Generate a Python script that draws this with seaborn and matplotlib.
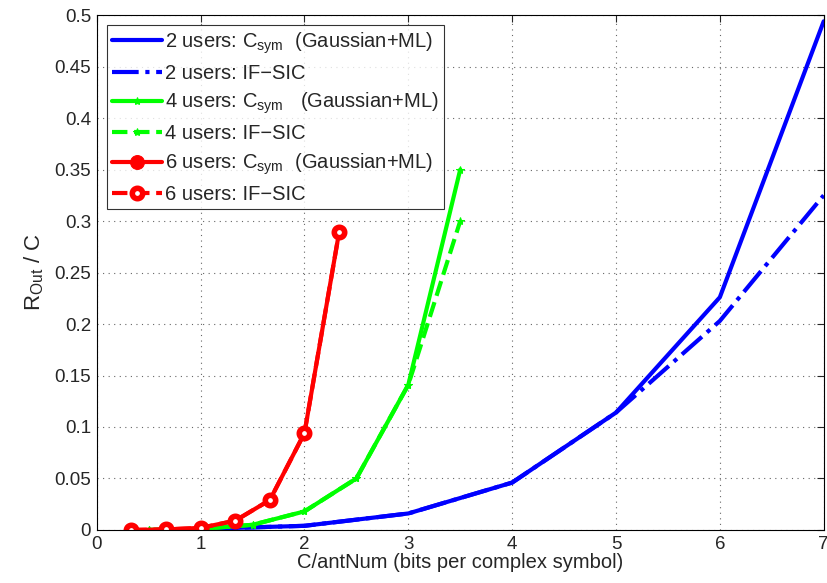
import numpy as np
import pandas as pd
import matplotlib
matplotlib.use("Agg")
import matplotlib.pyplot as plt
import seaborn as sns

# 2 users
x2 = [1, 2, 3, 4, 5, 6, 7]
y2_ml = [0.001, 0.004, 0.016, 0.046, 0.114, 0.226, 0.494]
y2_sic = [0.001, 0.004, 0.016, 0.046, 0.114, 0.203, 0.325]

# 4 users
x4 = [0.5, 1.0, 1.5, 2.0, 2.5, 3.0, 3.5]
y4_ml = [0.0, 0.001, 0.005, 0.018, 0.050, 0.141, 0.350]
y4_sic = [0.0, 0.001, 0.005, 0.018, 0.050, 0.141, 0.300]

# 6 users
x6 = [1/3, 2/3, 1.0, 4/3, 5/3, 2.0, 7/3]
y6_ml = [0.0, 0.0005, 0.002, 0.009, 0.029, 0.094, 0.289]
y6_sic = [0.0, 0.0005, 0.002, 0.009, 0.029, 0.094, 0.289]

sns.set_style("white")
plt.rcParams['font.family'] = ['Liberation Sans', 'DejaVu Sans']
plt.rcParams['mathtext.fontset'] = 'custom'
plt.rcParams['mathtext.rm'] = 'Liberation Sans'

fig = plt.figure(figsize=(8.27, 5.83), dpi=100)
ax = fig.add_axes([0.117, 0.091, 0.879, 0.883])

sns.lineplot(x=x2, y=y2_ml, ax=ax, color='#0000ff', lw=3,
             label='2 users: C$_{\\rm sym}$  (Gaussian+ML)')
sns.lineplot(x=x2, y=y2_sic, ax=ax, color='#0000ff', lw=3, linestyle='-.',
             label='2 users: IF\u2212SIC')
sns.lineplot(x=x4, y=y4_ml, ax=ax, color='#00ff00', lw=3, marker='*', markersize=6,
             markeredgecolor='#00ff00', label='4 users: C$_{\\rm sym}$   (Gaussian+ML)')
sns.lineplot(x=x4, y=y4_sic, ax=ax, color='#00ff00', lw=3, linestyle='--', marker='*',
             markersize=6, markeredgecolor='#00ff00', label='4 users: IF\u2212SIC')
sns.lineplot(x=x6, y=y6_ml, ax=ax, color='#ff0000', lw=3, marker='o', markersize=10,
             markeredgecolor='#ff0000', label='6 users: C$_{\\rm sym}$  (Gaussian+ML)')
sns.lineplot(x=x6, y=y6_sic, ax=ax, color='#ff0000', lw=3, linestyle='--', marker='o',
             markersize=7.5, markerfacecolor='white', markeredgecolor='#ff0000',
             markeredgewidth=4, label='6 users: IF\u2212SIC')

ax.set_xlim(0, 7)
ax.set_ylim(0, 0.5)
ax.set_xticks(range(0, 8))
ax.set_yticks(np.arange(0, 0.51, 0.05))
ax.set_yticklabels(['0', '0.05', '0.1', '0.15', '0.2', '0.25', '0.3', '0.35', '0.4', '0.45', '0.5'])
ax.tick_params(direction='in', length=5, labelsize=13.5, top=True, right=True, width=0.8, pad=4)
ax.grid(True, linestyle=(0, (1, 4)), color='#666666', linewidth=0.8)
for s in ax.spines.values():
    s.set_color('black')
    s.set_linewidth(0.8)

ax.set_xlabel('C/antNum (bits per complex symbol)', fontsize=14.5, labelpad=0)
ax.set_ylabel('R$_{\\rm Out}$ / C', fontsize=16, labelpad=6)

leg = ax.legend(loc='upper left', fontsize=14.5, frameon=True, fancybox=False,
                edgecolor='black', handlelength=2.5, handletextpad=0.15,
                borderpad=0.25, labelspacing=0.4, borderaxespad=0.5)
leg.get_frame().set_linewidth(0.8)

fig.savefig('out.png', dpi=100)
